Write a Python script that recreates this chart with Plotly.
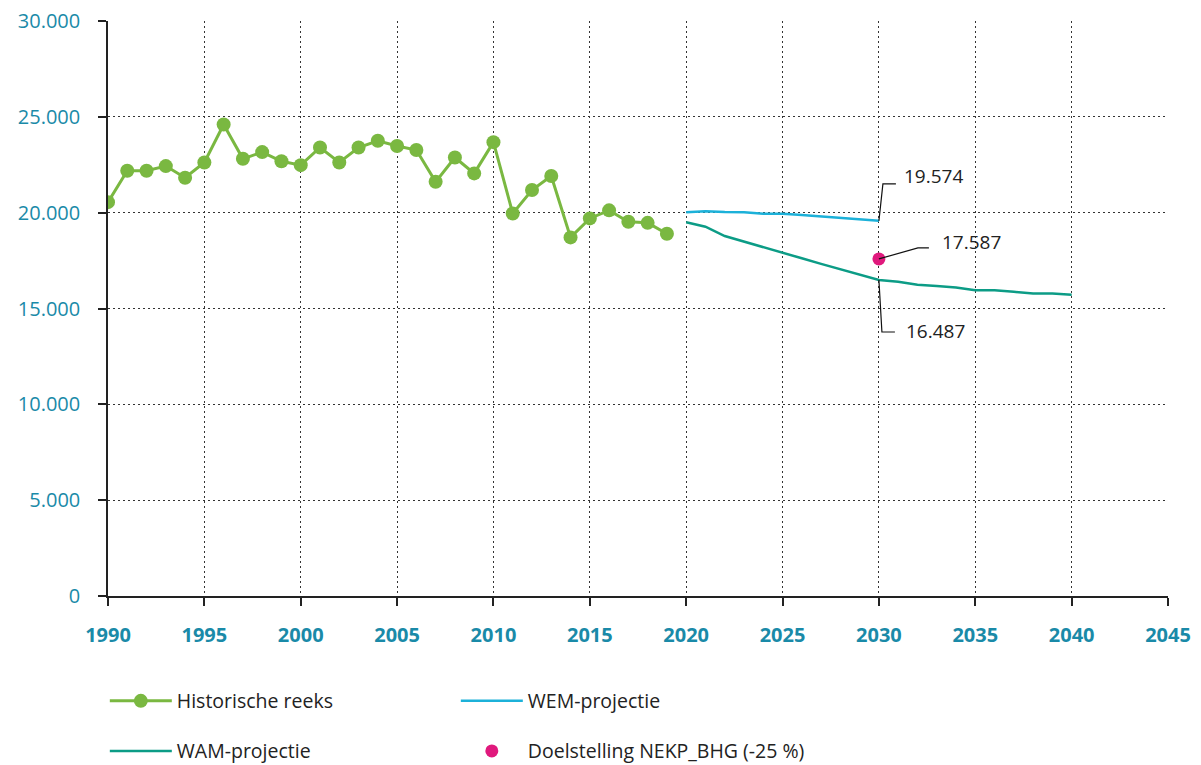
import plotly.graph_objects as go

hist_years = list(range(1990, 2020))
hist_values = [20550, 22190, 22190, 22430, 21820, 22620, 24600, 22810, 23160, 22680,
               22480, 23400, 22620, 23400, 23750, 23480, 23270, 21610, 22880, 22050,
               23680, 19960, 21180, 21910, 18710, 19700, 20120, 19530, 19470, 18900]

wem_years = list(range(2020, 2031))
wem_values = [20020, 20080, 20030, 20020, 19950, 19940, 19880, 19810, 19730, 19650, 19574]

wam_years = list(range(2020, 2041))
wam_values = [19500, 19270, 18780, 18500, 18200, 17900, 17620, 17330, 17050, 16770, 16487,
              16400, 16240, 16170, 16100, 15950, 15950, 15870, 15780, 15780, 15720]

target_year = [2030]
target_value = [17587]

x_ticks = list(range(1990, 2050, 5))
y_ticks = list(range(0, 35000, 5000))

C_HIST = "#7ab841"
C_WEM = "#1cb1d9"
C_WAM = "#0c9c86"
C_TGT = "#e0197d"
C_AX = "#1a8aa8"
FONT = "Open Sans"
GRID_DASH = "1.5px,3.5px"

fig = go.Figure()
fig.add_trace(go.Scatter(x=hist_years, y=hist_values, mode="lines+markers", name="Historische reeks",
                         line=dict(color=C_HIST, width=3), marker=dict(size=14, color=C_HIST),
                         legend="legend"))
fig.add_trace(go.Scatter(x=wem_years, y=wem_values, mode="lines", name="WEM-projectie",
                         line=dict(color=C_WEM, width=2.5), legend="legend"))
fig.add_trace(go.Scatter(x=wam_years, y=wam_values, mode="lines", name="WAM-projectie",
                         line=dict(color=C_WAM, width=2.5), legend="legend2"))
fig.add_trace(go.Scatter(x=target_year, y=target_value, mode="markers", name="Doelstelling NEKP_BHG (-25 %)",
                         marker=dict(size=13, color=C_TGT), legend="legend2"))


def fmt(v):
    return f"{v:,}".replace(",", ".")


# leader lines (pixel offsets anchored at the data points)
leaders = [
    (wem_years[-1], wem_values[-1], "M 0 0 L 4 37 L 17 37", fmt(wem_values[-1]), 23, 45),
    (target_year[0], target_value[0], "M 0 0 L 39 11 L 50 11", fmt(target_value[0]), 61, 17),
    (wam_years[10], wam_values[10], "M 0 0 L 3 -52 L 16 -52", fmt(wam_values[10]), 25, -51),
]
for x, y, path, txt, dx, dy in leaders:
    fig.add_shape(type="path", xref="x", yref="y", xsizemode="pixel", ysizemode="pixel",
                  xanchor=x, yanchor=y, path=path, line=dict(color="#111111", width=1.2), layer="above")
    fig.add_annotation(x=x, y=y, text=txt, showarrow=False, xanchor="left", yanchor="middle",
                       xshift=dx, yshift=dy, font=dict(family=FONT, size=19, color="#222222"))

# the page body adds an 8px offset; size the figure so the plot area lands where the reference has it
fig.update_layout(
    width=1193, height=757,
    margin=dict(l=100, r=33, t=13, b=169, autoexpand=False),
    plot_bgcolor="white", paper_bgcolor="white",
    separators=",.",
    font=dict(family=FONT, size=17, color="#222222"),
    xaxis=dict(range=[1990, 2045], tickvals=x_ticks, showgrid=True, gridcolor="#333333",
               griddash=GRID_DASH, gridwidth=1, zeroline=False, showline=True, linecolor="#222222",
               linewidth=1.5, ticks="outside", ticklen=8, tickcolor="#222222", tickwidth=1.5,
               automargin=False, ticklabeloverflow="allow",
               tickfont=dict(family=FONT, size=20, color=C_AX, weight="bold"), ticklabelstandoff=12),
    yaxis=dict(range=[0, 30000], tickvals=y_ticks, tickformat=",d", showgrid=True, gridcolor="#333333",
               griddash=GRID_DASH, gridwidth=1, zeroline=False, showline=True, linecolor="#222222",
               linewidth=1.5, ticks="outside", ticklen=8, tickcolor="#222222", tickwidth=1.5,
               automargin=False, ticklabeloverflow="allow",
               tickfont=dict(family=FONT, size=20, color=C_AX), ticklabelstandoff=14),
    legend=dict(orientation="h", x=-0.003, xanchor="left", y=-0.149, yanchor="top",
                entrywidth=274, entrywidthmode="pixels", font=dict(size=19.5, color="#222222"),
                itemwidth=62),
    legend2=dict(orientation="h", x=-0.003, xanchor="left", y=-0.236, yanchor="top",
                 entrywidth=274, entrywidthmode="pixels", font=dict(size=19.5, color="#222222"),
                 itemwidth=62),
)

fig.write_html("out.html")
